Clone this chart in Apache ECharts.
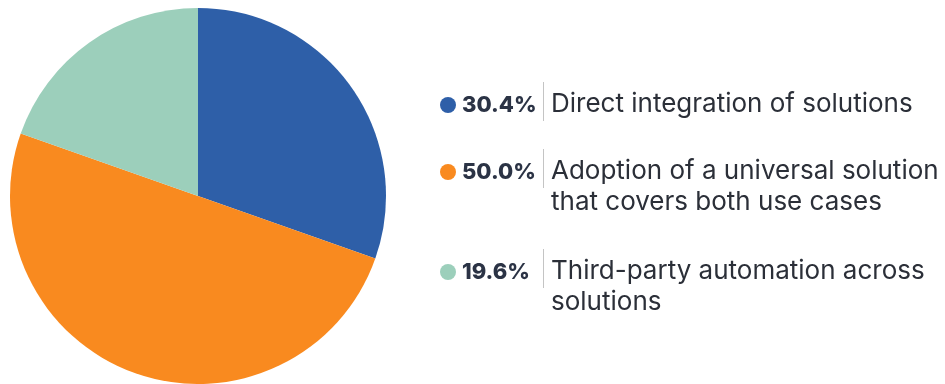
<!DOCTYPE html>
<html><head><meta charset="utf-8">
<script src="https://cdn.jsdelivr.net/npm/echarts@6/dist/echarts.min.js"></script>
<style>html,body{margin:0;padding:0;background:#fff}#c{width:945px;height:384px}</style>
</head><body><div id="c"></div>
<script>
const names = ['Direct integration of solutions', 'Adoption of a universal solution that covers both use cases', 'Third-party automation across solutions'];
const lines = [['Direct integration of solutions'], ['Adoption of a universal solution', 'that covers both use cases'], ['Third-party automation across', 'solutions']];
const values = [30.4, 50.0, 19.6];
const pctLabels = ['30.4%', '50.0%', '19.6%'];
const colors = ['#2e5fa8', '#f98a1f', '#9ccfbb'];
const rowTops = [82, 149, 249];

function dotImage(color) {
  const cv = document.createElement('canvas');
  cv.width = 16; cv.height = 23;
  const g = cv.getContext('2d');
  g.fillStyle = color;
  g.beginPath(); g.arc(8, 15, 8, 0, Math.PI * 2); g.fill();
  return cv;
}

const rich = {
  pct: {fontFamily: 'Inter', fontWeight: 800, fontSize: 22, color: '#2b3345', width: 81, padding: [7, 0, 0, 0]},
  sep: {width: 1, height: 39, backgroundColor: '#c4c4c4'},
  gap: {width: 6},
  txt: {fontFamily: 'Inter', fontSize: 26, color: '#2b2f38', lineHeight: 23, padding: [6, 0, 0, 7]},
  ind: {width: 104}
};
colors.forEach((c, i) => { rich['dot' + i] = {width: 16, height: 23, backgroundColor: {image: dotImage(c)}}; });

function fmt(name) {
  const i = names.indexOf(name);
  let s = '{dot' + i + '|}{gap|}{pct|' + pctLabels[i] + '}{sep|}{txt|' + lines[i][0] + '}';
  for (let k = 1; k < lines[i].length; k++) s += '\n{ind|}{txt|' + lines[i][k] + '}';
  return s;
}

const chart = echarts.init(document.getElementById('c'));
chart.setOption({
  animation: false,
  color: colors,
  legend: names.map((n, i) => ({
    orient: 'vertical', left: 435, top: rowTops[i], padding: 0, icon: 'none', itemWidth: 0, itemHeight: 0,
    selectedMode: false, data: [n], formatter: fmt, textStyle: {rich: rich}
  })),
  series: [{
    type: 'pie', center: [198, 196], radius: 188, startAngle: 90, clockwise: true,
    label: {show: false}, labelLine: {show: false}, silent: true,
    itemStyle: {borderWidth: 0},
    data: names.map((n, i) => ({name: n, value: values[i]}))
  }]
});
</script></body></html>
